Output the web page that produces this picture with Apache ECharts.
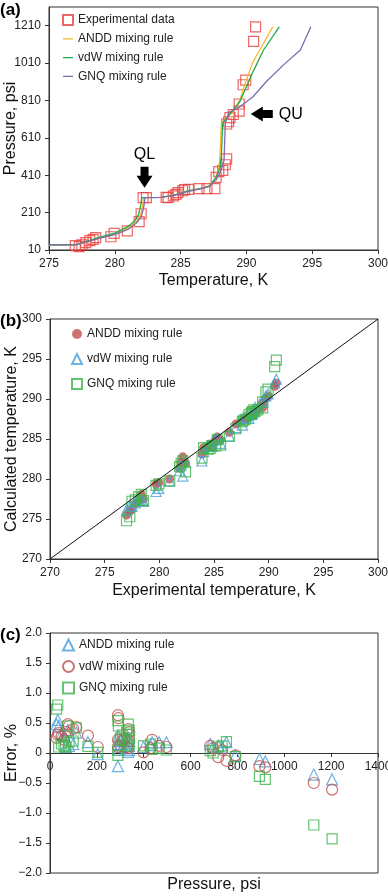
<!DOCTYPE html>
<html>
<head>
<meta charset="utf-8">
<script src="https://cdn.jsdelivr.net/npm/echarts@6/dist/echarts.min.js"></script>
<style>
html, body { margin: 0; padding: 0; background: #fff; }
#chart { width: 388px; height: 896px; }
</style>
</head>
<body>
<div id="chart"></div>
<script>
// experimental points (panel a), temperature K and pressure psi
const expT = [277.0, 277.3, 277.5, 277.8, 278.1, 278.35, 278.55, 279.7, 279.95, 280.95,
    281.85, 282.0, 282.15, 282.4, 283.9, 284.05, 284.45, 284.65, 284.8, 285.15,
    285.3, 285.6, 286.4, 287.0, 287.6, 287.7, 287.9, 288.2, 288.4, 288.5,
    288.5, 288.65, 288.75, 289.0, 289.45, 289.45, 289.75, 289.95, 290.55, 290.7];
const expP = [33, 28, 37, 49, 60, 67, 76, 81, 99, 112,
    162, 204, 290, 290, 292, 290, 300, 308, 317, 327,
    333, 334, 338, 338, 338, 399, 429, 436, 466, 497,
    684, 696, 718, 735, 753, 791, 894, 919, 1126, 1204];

// model curves (panel a)
const anddLineT = [275, 277, 277.8, 278.8, 280, 281, 281.6, 281.9, 282.1, 282.2, 283.5, 284.5, 285.5, 286.5, 287.2, 287.6, 287.9, 288.0, 288.1, 288.5, 289.0, 289.5, 289.9, 290.5, 291.3, 292.0];
const anddLineP = [37, 37, 52, 74, 96, 128, 160, 185, 240, 290, 291, 303, 325, 340, 355, 390, 440, 520, 690, 720, 750, 812, 900, 1017, 1115, 1204];
const vdwLineT = [275, 277, 277.8, 278.8, 280, 281, 281.5, 281.8, 282.0, 282.05, 283.5, 284.5, 285.5, 286.5, 287.2, 287.7, 288.0, 288.1, 288.2, 288.6, 289.0, 289.5, 290.0, 290.5, 291.3, 292.5];
const vdwLineP = [37, 37, 55, 78, 100, 135, 165, 198, 260, 290, 291, 303, 325, 338, 352, 400, 450, 520, 690, 725, 758, 803, 883, 963, 1080, 1204];
const gnqLineT = [275, 277, 277.8, 278.8, 280, 281, 281.6, 282.0, 282.2, 282.3, 283.5, 284.5, 285.5, 286.5, 287.2, 287.7, 288.1, 288.3, 288.4, 288.7, 289.5, 290.5, 291.5, 292.8, 294.1, 294.9];
const gnqLineP = [37, 37, 52, 72, 92, 120, 152, 185, 240, 290, 291, 302, 322, 337, 350, 385, 440, 490, 690, 748, 776, 830, 910, 999, 1080, 1204];

// calculated temperatures (panel b), same order as expT
const anddCalcT = [275.48, 275.97, 276.25, 276.91, 277.27, 278.07, 277.49, 279.36, 279.53, 279.99,
    281.34, 282.06, 282.77, 281.98, 283.11, 283.91, 283.88, 284.37, 284.09, 284.92,
    285.24, 284.86, 285.83, 286.86, 287.25, 287.41, 287.53, 287.68, 287.88, 287.98,
    288.07, 288.36, 288.40, 288.74, 288.93, 289.57, 290.04, 290.36, 291.60, 291.98];
const vdwCalcT = [276.17, 276.61, 276.58, 277.02, 277.49, 277.38, 277.21, 278.44, 278.83, 279.74,
    281.03, 281.72, 280.37, 282.12, 282.25, 283.43, 284.11, 284.08, 284.09, 284.86,
    285.07, 284.46, 285.40, 286.43, 286.74, 287.67, 287.67, 287.57, 288.05, 288.21,
    288.15, 288.42, 288.95, 288.86, 289.83, 289.57, 290.39, 290.65, 292.00, 292.47];
const gnqCalcT = [274.78, 275.28, 277.22, 277.38, 277.77, 278.07, 277.30, 279.20, 279.39, 279.77,
    281.54, 281.97, 282.26, 280.88, 282.62, 283.91, 283.74, 283.80, 284.17, 284.15,
    284.96, 284.23, 285.31, 286.28, 287.17, 287.35, 287.47, 288.03, 288.17, 288.36,
    288.38, 288.65, 288.46, 288.65, 288.90, 289.62, 290.88, 291.23, 294.04, 294.86];
const diagT = [270, 300];

// errors % (panel c), same order as expP
const anddErr = [0.55, 0.48, 0.45, 0.32, 0.30, 0.10, 0.38, 0.12, 0.15, 0.34,
    0.18, -0.02, -0.22, 0.15, 0.28, 0.05, 0.20, 0.10, 0.25, 0.08,
    0.02, 0.26, 0.20, 0.05, 0.12, 0.10, 0.13, 0.18, 0.18, 0.18,
    0.15, 0.10, 0.12, 0.09, 0.18, -0.04, -0.10, -0.14, -0.36, -0.44];
const vdwErr = [0.30, 0.25, 0.33, 0.28, 0.22, 0.35, 0.48, 0.45, 0.40, 0.43,
    0.29, 0.10, 0.63, 0.10, 0.58, 0.22, 0.12, 0.20, 0.25, 0.10,
    0.08, 0.40, 0.35, 0.20, 0.30, 0.01, 0.08, 0.22, 0.12, 0.10,
    0.12, 0.08, -0.07, 0.05, -0.13, -0.04, -0.22, -0.24, -0.50, -0.61];
const gnqErr = [0.80, 0.73, 0.10, 0.15, 0.12, 0.10, 0.45, 0.18, 0.20, 0.42,
    0.11, 0.01, -0.04, 0.54, 0.45, 0.05, 0.25, 0.30, 0.22, 0.35,
    0.12, 0.48, 0.38, 0.25, 0.15, 0.12, 0.15, 0.06, 0.08, 0.05,
    0.04, 0.00, 0.10, 0.12, 0.19, -0.06, -0.39, -0.44, -1.20, -1.43];

// annotation anchors (panel a, data space)
const qlAt = [282.26, 399];
const quAt = [291.17, 737];

const zip = (a, b) => a.map((v, i) => [v, b[i]]);

const RED = '#e8403c', ORANGE = '#f6b82c', GREEN = '#22aa4f', PURPLE = '#8368ad';
const BROWN = '#c0504d', BLUE = '#4a9fdc', SQGREEN = '#3cb44b';
const FONT = '"Liberation Sans", Arial, sans-serif';

const labelBase = { color: '#222', fontSize: 12, fontFamily: FONT, formatter: v => String(v) };
const axisBase = {
    axisLine: { show: true, onZero: false, lineStyle: { color: '#333', width: 1 } },
    axisTick: { show: true, length: 4, lineStyle: { color: '#333' } },
    splitLine: { show: false },
    axisLabel: labelBase,
    nameTextStyle: { color: '#111', fontSize: 16, fontFamily: FONT },
    nameLocation: 'middle',
    nameMoveOverlap: false
};
const ax = o => Object.assign({}, axisBase, o);
const gridBase = { outerBoundsMode: 'none', containLabel: false, show: true, borderColor: '#333', borderWidth: 1 };
const gr = o => Object.assign({}, gridBase, o);
const legendText = n => n.replace(/ \(.\)$/, '');
const openStyle = c => ({ color: 'rgba(0,0,0,0)', borderColor: c, borderWidth: 1.2 });
const lineIcon = 'path://M0,0 L0.01,0 L0,0.01 Z M0,4.4 L10,4.4 L10,5.6 L0,5.6 Z M10,10 L9.99,10 L10,9.99 Z';
const downArrow = 'path://M4,0 L12,0 L12,9 L16,9 L8,21 L0,9 L4,9 Z';
const leftArrow = 'path://M0,7.5 L12,0 L12,3.5 L22,3.5 L22,11.5 L12,11.5 L12,15 Z';

const option = {
    animation: false,
    textStyle: { fontFamily: FONT },
    grid: [
        gr({ left: 49, top: 7, width: 329, height: 243 }),
        gr({ left: 50, top: 319, width: 328, height: 240 }),
        gr({ left: 50, top: 633, width: 328, height: 240 })
    ],
    xAxis: [
        ax({ gridIndex: 0, type: 'value', min: 275, max: 300, interval: 5, name: 'Temperature, K', nameGap: 23 }),
        ax({ gridIndex: 1, type: 'value', min: 270, max: 300, interval: 5, name: 'Experimental temperature, K', nameGap: 24 }),
        // axis sits on the zero line of the error scale
        ax({ gridIndex: 2, type: 'value', min: 0, max: 1400, interval: 200, offset: -120 })
    ],
    yAxis: [
        ax({ gridIndex: 0, type: 'value', min: 10, max: 1310, interval: 200, name: 'Pressure, psi', nameGap: 30,
            axisLabel: Object.assign({}, labelBase, { showMaxLabel: false }) }),
        ax({ gridIndex: 1, type: 'value', min: 270, max: 300, interval: 5, name: 'Calculated temperature, K', nameGap: 30 }),
        ax({ gridIndex: 2, type: 'value', min: -2, max: 2, interval: 0.5, name: 'Error, %', nameGap: 30,
            axisLabel: Object.assign({}, labelBase, {
                formatter: v => v === 0 ? '0' : (v < 0 ? '\u2212' : '') + Math.abs(v).toFixed(1) }) })
    ],
    legend: [
        { left: 62, top: 14, orient: 'vertical', padding: 0, itemWidth: 10, itemHeight: 10, itemGap: 6.8,
          textStyle: { fontSize: 12, color: '#222' }, formatter: legendText, selectedMode: false,
          data: [{ name: 'Experimental data', icon: 'rect' },
                 { name: 'ANDD mixing rule (a)', icon: lineIcon },
                 { name: 'vdW mixing rule (a)', icon: lineIcon },
                 { name: 'GNQ mixing rule (a)', icon: lineIcon }] },
        { left: 71, top: 328, orient: 'vertical', padding: 0, itemWidth: 10, itemHeight: 10, itemGap: 13,
          textStyle: { fontSize: 12, color: '#222' }, formatter: legendText, selectedMode: false,
          data: [{ name: 'ANDD mixing rule (b)', icon: 'circle' }, { name: 'vdW mixing rule (b)', icon: 'triangle' }, { name: 'GNQ mixing rule (b)', icon: 'rect' }] },
        { left: 62, top: 638.5, orient: 'vertical', padding: 0, itemWidth: 11, itemHeight: 11, itemGap: 8.5,
          textStyle: { fontSize: 12, color: '#222' }, formatter: legendText, selectedMode: false,
          data: [{ name: 'ANDD mixing rule (c)', icon: 'triangle' }, { name: 'vdW mixing rule (c)', icon: 'circle' }, { name: 'GNQ mixing rule (c)', icon: 'rect' }] }
    ],
    graphic: [
        { type: 'text', left: 0, top: 2, style: { text: '(a)', font: 'bold 17px ' + FONT, fill: '#000' } },
        { type: 'text', left: 0, top: 313, style: { text: '(b)', font: 'bold 17px ' + FONT, fill: '#000' } },
        { type: 'text', left: 0, top: 627, style: { text: '(c)', font: 'bold 17px ' + FONT, fill: '#000' } },
        { type: 'text', x: 214, y: 885, style: { text: 'Pressure, psi', font: '16px ' + FONT, fill: '#111', align: 'center', verticalAlign: 'middle' } }
    ],
    series: [
        // panel a
        { name: 'Experimental data', type: 'scatter', xAxisIndex: 0, yAxisIndex: 0, symbol: 'rect', symbolSize: 10,
          itemStyle: openStyle(RED), data: zip(expT, expP),
          markPoint: {
              itemStyle: { color: '#000' },
              data: [
                  { coord: qlAt, symbol: downArrow, symbolSize: [16, 21],
                    label: { show: true, formatter: 'QL', position: 'top', distance: 4, color: '#000', fontSize: 16 } },
                  { coord: quAt, symbol: leftArrow, symbolSize: [22, 15],
                    label: { show: true, formatter: 'QU', position: 'right', distance: 6, color: '#000', fontSize: 16 } }
              ]
          } },
        { name: 'ANDD mixing rule (a)', type: 'line', xAxisIndex: 0, yAxisIndex: 0, symbol: 'none',
          lineStyle: { color: ORANGE, width: 1.3 }, itemStyle: { color: ORANGE }, data: zip(anddLineT, anddLineP) },
        { name: 'vdW mixing rule (a)', type: 'line', xAxisIndex: 0, yAxisIndex: 0, symbol: 'none',
          lineStyle: { color: GREEN, width: 1.3 }, itemStyle: { color: GREEN }, data: zip(vdwLineT, vdwLineP) },
        { name: 'GNQ mixing rule (a)', type: 'line', xAxisIndex: 0, yAxisIndex: 0, symbol: 'none',
          lineStyle: { color: PURPLE, width: 1.3 }, itemStyle: { color: PURPLE }, data: zip(gnqLineT, gnqLineP) },
        // panel b
        { type: 'line', xAxisIndex: 1, yAxisIndex: 1, symbol: 'none', lineStyle: { color: '#111', width: 1 },
          data: zip(diagT, diagT), silent: true },
        { name: 'ANDD mixing rule (b)', type: 'scatter', xAxisIndex: 1, yAxisIndex: 1, symbol: 'circle', symbolSize: 9,
          itemStyle: { color: BROWN }, data: zip(expT, anddCalcT) },
        { name: 'vdW mixing rule (b)', type: 'scatter', xAxisIndex: 1, yAxisIndex: 1, symbol: 'triangle', symbolSize: 10,
          itemStyle: openStyle(BLUE), data: zip(expT, vdwCalcT) },
        { name: 'GNQ mixing rule (b)', type: 'scatter', xAxisIndex: 1, yAxisIndex: 1, symbol: 'rect', symbolSize: 10,
          itemStyle: openStyle(SQGREEN), data: zip(expT, gnqCalcT) },
        // panel c
        { name: 'ANDD mixing rule (c)', type: 'scatter', xAxisIndex: 2, yAxisIndex: 2, symbol: 'triangle', symbolSize: 11,
          itemStyle: openStyle(BLUE), data: zip(expP, anddErr) },
        { name: 'vdW mixing rule (c)', type: 'scatter', xAxisIndex: 2, yAxisIndex: 2, symbol: 'circle', symbolSize: 11,
          itemStyle: openStyle(BROWN), data: zip(expP, vdwErr) },
        { name: 'GNQ mixing rule (c)', type: 'scatter', xAxisIndex: 2, yAxisIndex: 2, symbol: 'rect', symbolSize: 10,
          itemStyle: openStyle(SQGREEN), data: zip(expP, gnqErr) }
    ]
};

const chart = echarts.init(document.getElementById('chart'));
chart.setOption(option);
</script>
</body>
</html>
